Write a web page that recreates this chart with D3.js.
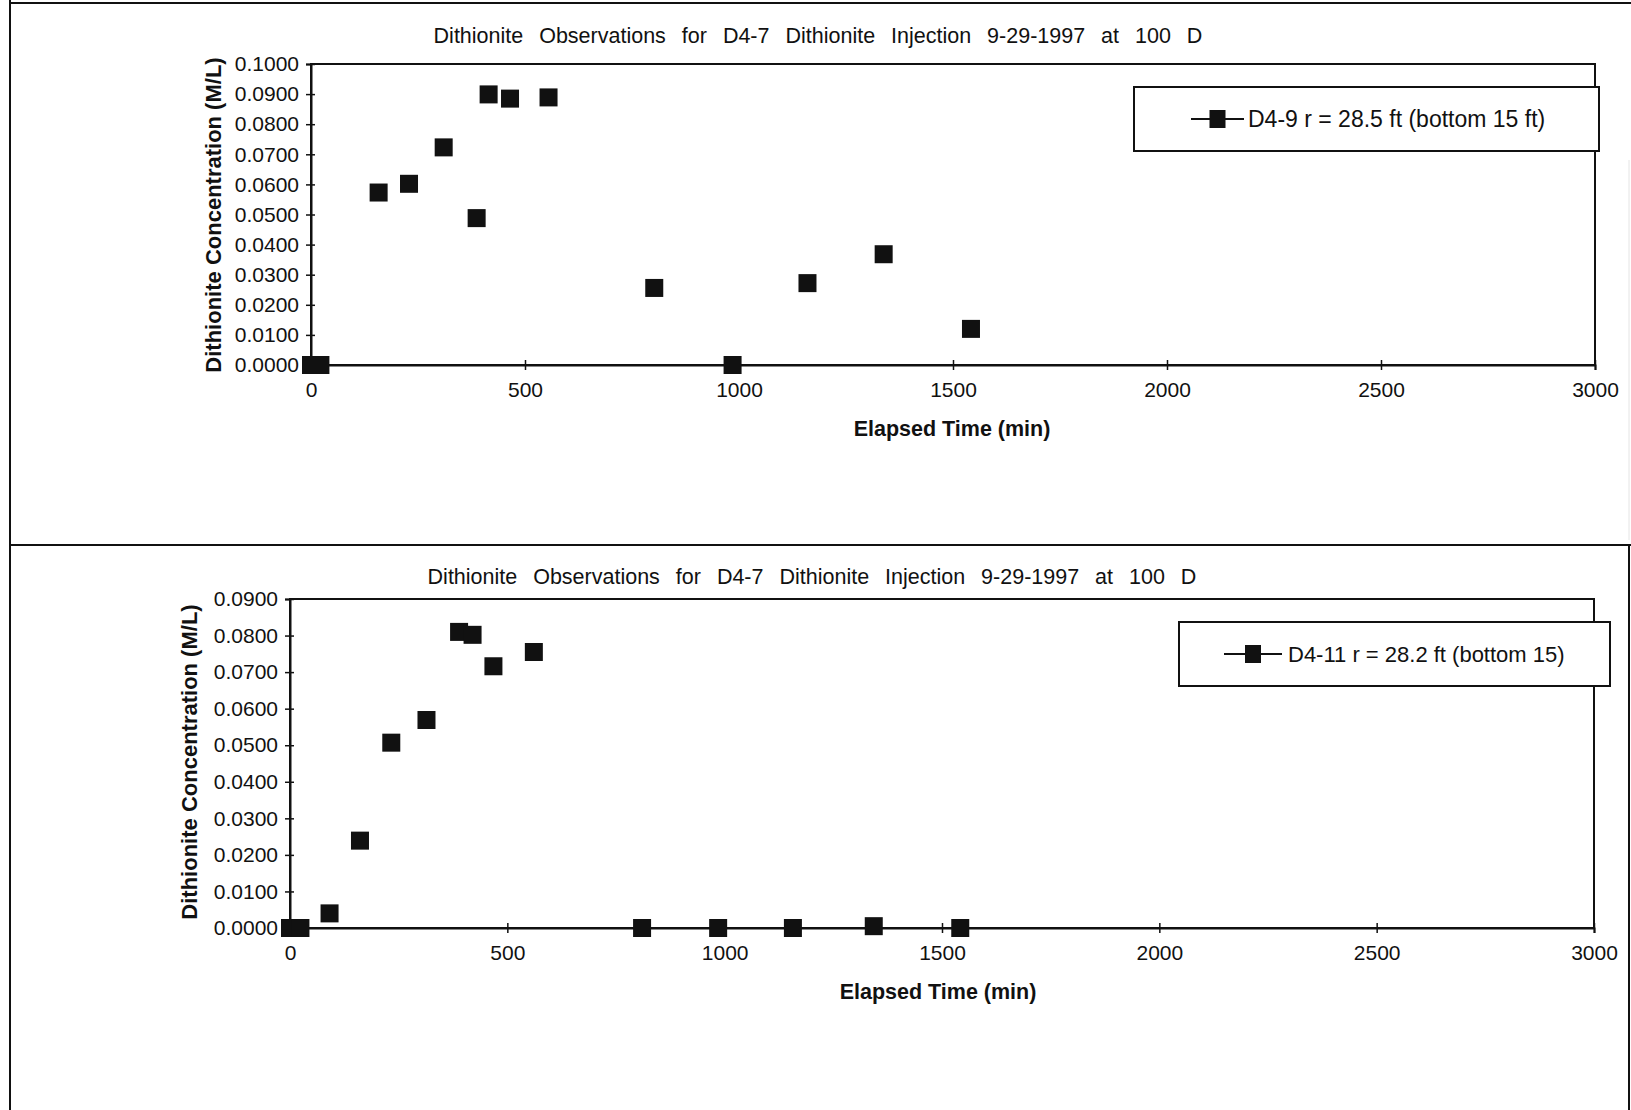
<!DOCTYPE html>
<html>
<head>
<meta charset="utf-8">
<script src="https://cdn.jsdelivr.net/npm/d3@7"></script>
<style>
  html, body { margin: 0; padding: 0; background: #fff; }
  svg { display: block; }
  text { font-family: "Liberation Sans", Arial, Helvetica, sans-serif; fill: #111; }
</style>
</head>
<body>
<svg id="chart" width="1631" height="1110"></svg>
<script>
// ---------- data ----------
const chartTitle = "Dithionite Observations for D4-7 Dithionite Injection 9-29-1997 at 100 D";
const yAxisTitle = "Dithionite Concentration (M/L)";
const xAxisTitle = "Elapsed Time (min)";

const xTicks = [0, 500, 1000, 1500, 2000, 2500, 3000];

// Upper chart: D4-9
const seriesTopName = "D4-9 r = 28.5 ft (bottom 15 ft)";
const topTime = [0, 22, 158, 229, 310, 387, 415, 465, 555, 802, 985, 1160, 1338, 1542];
const topConc = [0, 0, 0.0573, 0.0602, 0.0723, 0.0488, 0.0899, 0.0885, 0.0889, 0.0256, 0, 0.0272, 0.0368, 0.0120];
const topYTicks = [0, 0.01, 0.02, 0.03, 0.04, 0.05, 0.06, 0.07, 0.08, 0.09, 0.10];

// Lower chart: D4-11
const seriesBottomName = "D4-11 r = 28.2 ft (bottom 15)";
const bottomTime = [0, 24, 91, 161, 233, 314, 389, 420, 468, 561, 810, 985, 1157, 1343, 1542];
const bottomConc = [0, 0, 0.0040, 0.0239, 0.0507, 0.0569, 0.0810, 0.0802, 0.0716, 0.0755, 0, 0, 0, 0.0005, 0];
const bottomYTicks = [0, 0.01, 0.02, 0.03, 0.04, 0.05, 0.06, 0.07, 0.08, 0.09];

// ---------- drawing ----------
const svg = d3.select("#chart");
const fmtY = d3.format(".4f");

// page frame lines (scanned page borders)
svg.append("line").attr("x1", 10).attr("x2", 10).attr("y1", 0).attr("y2", 1110)
  .attr("stroke", "#111").attr("stroke-width", 2);
svg.append("line").attr("x1", 10).attr("x2", 1631).attr("y1", 3).attr("y2", 3)
  .attr("stroke", "#111").attr("stroke-width", 2);
svg.append("line").attr("x1", 10).attr("x2", 1631).attr("y1", 545).attr("y2", 545)
  .attr("stroke", "#111").attr("stroke-width", 2);
svg.append("line").attr("x1", 1629).attr("x2", 1629).attr("y1", 545).attr("y2", 1110)
  .attr("stroke", "#111").attr("stroke-width", 2);
svg.append("line").attr("x1", 1629).attr("x2", 1629).attr("y1", 160).attr("y2", 540)
  .attr("stroke", "#e4e4e4").attr("stroke-width", 1);

function drawChart(cfg) {
  const g = svg.append("g");
  const x = d3.scaleLinear().domain([0, 3000]).range([cfg.left, cfg.right]);
  const y = d3.scaleLinear().domain([0, cfg.yMax]).range([cfg.bottom, cfg.top]);

  // title
  g.append("text")
    .attr("x", cfg.titleX).attr("y", cfg.titleY)
    .attr("text-anchor", "middle").attr("dominant-baseline", "central")
    .attr("font-size", 21.5).style("word-spacing", "10px")
    .text(chartTitle);

  // plot box
  g.append("rect")
    .attr("x", cfg.left).attr("y", cfg.top)
    .attr("width", cfg.right - cfg.left).attr("height", cfg.bottom - cfg.top)
    .attr("fill", "none").attr("stroke", "#111").attr("stroke-width", 2);

  // y axis
  const ya = g.append("g").attr("transform", `translate(${cfg.left},0)`)
    .call(d3.axisLeft(y).tickValues(cfg.yTicks).tickFormat(fmtY).tickSize(5).tickPadding(7));
  ya.select(".domain").attr("stroke", "#111").attr("stroke-width", 2);
  ya.selectAll(".tick line").attr("x1", 4).attr("x2", -5).attr("stroke", "#111").attr("stroke-width", 1.5);
  ya.selectAll(".tick text").attr("font-size", 21).attr("fill", "#111")
    .attr("font-family", "Liberation Sans, Arial, sans-serif");

  // x axis
  const xa = g.append("g").attr("transform", `translate(0,${cfg.bottom})`)
    .call(d3.axisBottom(x).tickValues(xTicks).tickFormat(d3.format("d")).tickSize(5).tickPadding(12));
  xa.select(".domain").attr("stroke", "#111").attr("stroke-width", 2);
  xa.selectAll(".tick line").attr("y1", -5).attr("y2", 5).attr("stroke", "#111").attr("stroke-width", 1.5);
  xa.selectAll(".tick text").attr("font-size", 21).attr("fill", "#111")
    .attr("font-family", "Liberation Sans, Arial, sans-serif");

  // axis titles
  g.append("text")
    .attr("transform", `translate(${cfg.yTitleX},${cfg.yTitleY}) rotate(-90)`)
    .attr("text-anchor", "middle").attr("dominant-baseline", "central")
    .attr("font-size", 22).attr("font-weight", "bold")
    .text(yAxisTitle);
  g.append("text")
    .attr("x", cfg.xTitleX).attr("y", cfg.xTitleY)
    .attr("text-anchor", "middle").attr("dominant-baseline", "central")
    .attr("font-size", 21.5).attr("font-weight", "bold")
    .text(xAxisTitle);

  // markers
  const ms = 18;
  const pts = cfg.time.map((t, i) => ({ t, c: cfg.conc[i] }));
  g.append("g").selectAll("rect").data(pts).join("rect")
    .attr("x", d => x(d.t) - ms / 2).attr("y", d => y(d.c) - ms / 2)
    .attr("width", ms).attr("height", ms).attr("fill", "#111");

  // legend
  const L = cfg.legend;
  g.append("rect").attr("x", L.x).attr("y", L.y).attr("width", L.w).attr("height", L.h)
    .attr("fill", "#fff").attr("stroke", "#111").attr("stroke-width", 2);
  const cy = L.y + L.h / 2;
  g.append("line").attr("x1", L.lineX1).attr("x2", L.lineX2).attr("y1", cy).attr("y2", cy)
    .attr("stroke", "#111").attr("stroke-width", 2);
  g.append("rect").attr("x", (L.lineX1 + L.lineX2) / 2 - 8).attr("y", cy - 9)
    .attr("width", 16).attr("height", 18).attr("fill", "#111");
  g.append("text").attr("x", L.textX).attr("y", cy)
    .attr("dominant-baseline", "central").attr("font-size", L.fs)
    .text(cfg.name);
}

drawChart({
  left: 311, right: 1595, top: 64, bottom: 365, yMax: 0.1, yTicks: topYTicks,
  time: topTime, conc: topConc, name: seriesTopName,
  titleX: 818, titleY: 36, yTitleX: 213, yTitleY: 215, xTitleX: 952, xTitleY: 429,
  legend: { x: 1134, y: 87, w: 465, h: 64, lineX1: 1191, lineX2: 1244, textX: 1248, fs: 23 }
});

drawChart({
  left: 290, right: 1594, top: 599, bottom: 928, yMax: 0.09, yTicks: bottomYTicks,
  time: bottomTime, conc: bottomConc, name: seriesBottomName,
  titleX: 812, titleY: 577, yTitleX: 189, yTitleY: 762, xTitleX: 938, xTitleY: 992,
  legend: { x: 1179, y: 622, w: 431, h: 64, lineX1: 1224, lineX2: 1282, textX: 1288, fs: 22 }
});
</script>
</body>
</html>
